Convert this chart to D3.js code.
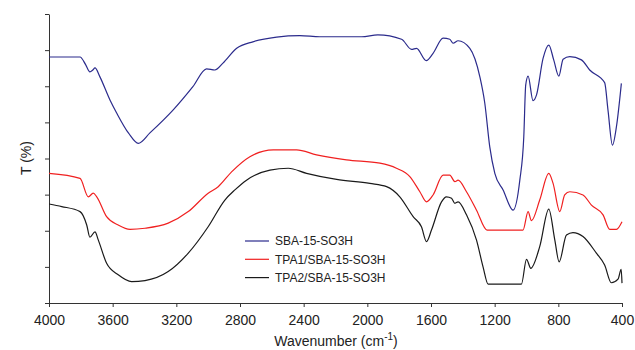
<!DOCTYPE html>
<html>
<head>
<meta charset="utf-8">
<script src="https://cdn.jsdelivr.net/npm/d3@7"></script>
<style>
	body { margin: 0; background: #fff; }
	svg text { font-family: "Liberation Sans", Arial, sans-serif; fill: #222; }
	.axis path, .axis line { stroke: #333; }
</style>
</head>
<body>
<svg id="chart" width="635" height="350"></svg>
<script>

//------------------------------------------------------------------------------
// Data (wavenumber cm-1, transmittance in arbitrary %)

var xTicks = [4000, 3600, 3200, 2800, 2400, 2000, 1600, 1200, 800, 400];
var yTicks = [0, 10, 20, 30, 40, 50, 60, 70, 80];

var seriesNames = ['SBA-15-SO3H', 'TPA1/SBA-15-SO3H', 'TPA2/SBA-15-SO3H'];
var seriesColors = ['#2b2b8c', '#f02020', '#1a1a1a'];

var sba = [
	[4000, 68.1], [3805, 68.1], [3770, 66.0], [3743, 64.0], [3725, 64.5], [3711, 65.1], [3680, 62.6],
	[3617, 56.2], [3575, 52.6], [3500, 47.0], [3439, 44.2], [3366, 47.1], [3221, 53.4], [3096, 59.9],
	[3010, 64.8], [2958, 64.5], [2907, 66.4], [2821, 70.5], [2719, 72.3],
	[2570, 73.6], [2424, 74.0], [2298, 73.7], [2036, 73.7], [1934, 74.2],
	[1785, 73.0], [1722, 70.2], [1691, 70.5], [1630, 67.1], [1587, 69.1],
	[1524, 73.3], [1482, 73.0], [1461, 71.9], [1430, 72.6], [1356, 70.5],
	[1293, 62.6], [1262, 55.3], [1231, 43.3], [1199, 35.9], [1147, 31.3],
	[1084, 25.7], [1042, 34.0], [1017, 46.0], [1005, 60.3], [990, 62.8],
	[959, 56.0], [937, 57.6], [896, 67.7], [860, 71.4], [829, 67.3],
	[797, 62.8], [770, 67.5], [728, 68.2], [655, 67.3], [603, 64.5],
	[509, 61.0], [488, 53.4], [460, 43.7], [435, 48.8], [404, 60.8]
];

var tpa1 = [
	[4000, 35.9], [3805, 34.5], [3753, 29.4], [3722, 30.4], [3700, 29.4],
	[3638, 23.9], [3565, 21.6], [3491, 20.4], [3397, 20.7], [3251, 22.1],
	[3125, 25.3], [3000, 30.4], [2937, 32.2], [2853, 36.3], [2738, 40.5],
	[2591, 42.4], [2445, 42.4], [2319, 41.0], [2131, 39.6], [1921, 38.7],
	[1817, 37.3], [1733, 35.0], [1670, 30.8], [1628, 28.0], [1587, 29.9],
	[1524, 35.4], [1482, 35.4], [1450, 33.6], [1430, 34.0], [1377, 30.8],
	[1314, 25.7], [1248, 20.2], [1022, 20.2], [990, 25.3], [969, 22.8],
	[917, 28.5], [860, 35.9], [833, 33.1], [791, 25.3], [760, 29.9],
	[728, 30.8], [645, 29.9], [592, 27.1], [519, 24.4], [477, 20.4],
	[435, 20.4], [400, 22.5]
];

var tpa2 = [
	[4000, 27.4], [3920, 26.7], [3805, 25.3], [3763, 21.6], [3743, 18.2],
	[3711, 19.7], [3690, 17.4], [3638, 11.0], [3565, 7.8], [3481, 5.9],
	[3397, 6.2], [3251, 8.7], [3125, 13.8], [3000, 21.1], [2895, 28.5],
	[2832, 31.3], [2759, 34.0], [2612, 36.8], [2497, 37.3], [2382, 35.9],
	[2193, 34.2], [1984, 33.1], [1879, 32.2], [1796, 29.4], [1712, 23.9],
	[1660, 21.1], [1628, 17.0], [1597, 20.2], [1534, 28.0], [1503, 29.4],
	[1471, 29.0], [1450, 27.6], [1430, 28.0], [1377, 24.4], [1314, 17.4],
	[1273, 10.0], [1241, 5.2], [1032, 5.2], [1000, 12.1], [973, 9.6],
	[917, 15.6], [860, 26.0], [822, 17.4], [795, 11.4], [749, 18.8],
	[708, 19.5], [645, 18.4], [561, 13.8], [509, 10.5], [467, 5.6],
	[425, 6.6], [405, 9.3], [400, 5.5]
];

var series = [sba, tpa1, tpa2];

//------------------------------------------------------------------------------
// Layout

var svg = d3.select('#chart');
var margin = { left: 49, right: 13, top: 14, bottom: 47 };
var width = 635 - margin.left - margin.right;
var height = 350 - margin.top - margin.bottom;

var x = d3.scaleLinear().domain([4000, 400]).range([0, width]);
var y = d3.scaleLinear().domain([0, 80]).range([height, 0]);

var g = svg.append('g')
	.attr('transform', 'translate(' + margin.left + ',' + margin.top + ')');

//------------------------------------------------------------------------------
// Axes

g.append('g')
	.attr('class', 'axis')
	.attr('transform', 'translate(0,' + height + ')')
	.call(d3.axisBottom(x).tickValues(xTicks).tickFormat(d3.format('d'))
		.tickSize(4).tickSizeOuter(0).tickPadding(8))
	.call(function (a) { a.selectAll('text').style('font-size', '14px'); })
;

g.append('g')
	.attr('class', 'axis')
	.call(d3.axisLeft(y).tickValues(yTicks).tickSize(4).tickSizeOuter(0).tickFormat(''))
;

var xTitle = svg.append('text')
	.attr('x', 336)
	.attr('y', 346)
	.attr('text-anchor', 'middle')
	.style('font-size', '14px');
xTitle.append('tspan').text('Wavenumber (cm');
xTitle.append('tspan').attr('dy', -6).style('font-size', '10px').text('-1');
xTitle.append('tspan').attr('dy', 6).text(')');

svg.append('text')
	.attr('transform', 'translate(31,158) rotate(-90)')
	.attr('text-anchor', 'middle')
	.style('font-size', '14px')
	.text('T (%)');

//------------------------------------------------------------------------------
// Curves

var line = d3.line()
	.curve(d3.curveMonotoneX)
	.x(function (d) { return x(d[0]); })
	.y(function (d) { return y(d[1]); });

g.selectAll('path.curve')
	.data(series)
	.enter().append('path')
	.attr('class', 'curve')
	.attr('fill', 'none')
	.attr('stroke', function (d, i) { return seriesColors[i]; })
	.attr('stroke-width', 1.2)
	.attr('stroke-linejoin', 'round')
	.attr('d', line)
;

//------------------------------------------------------------------------------
// Legend

var legend = svg.append('g').attr('transform', 'translate(245,241)');
var items = legend.selectAll('g')
	.data(seriesNames)
	.enter().append('g')
	.attr('transform', function (d, i) { return 'translate(0,' + (i * 18.3) + ')'; });
items.append('line')
	.attr('x1', 0).attr('x2', 24)
	.attr('stroke', function (d, i) { return seriesColors[i]; })
	.attr('stroke-width', 1.2);
items.append('text')
	.attr('x', 30)
	.attr('dy', '0.35em')
	.style('font-size', '12px')
	.text(function (d) { return d; });

</script>
</body>
</html>
